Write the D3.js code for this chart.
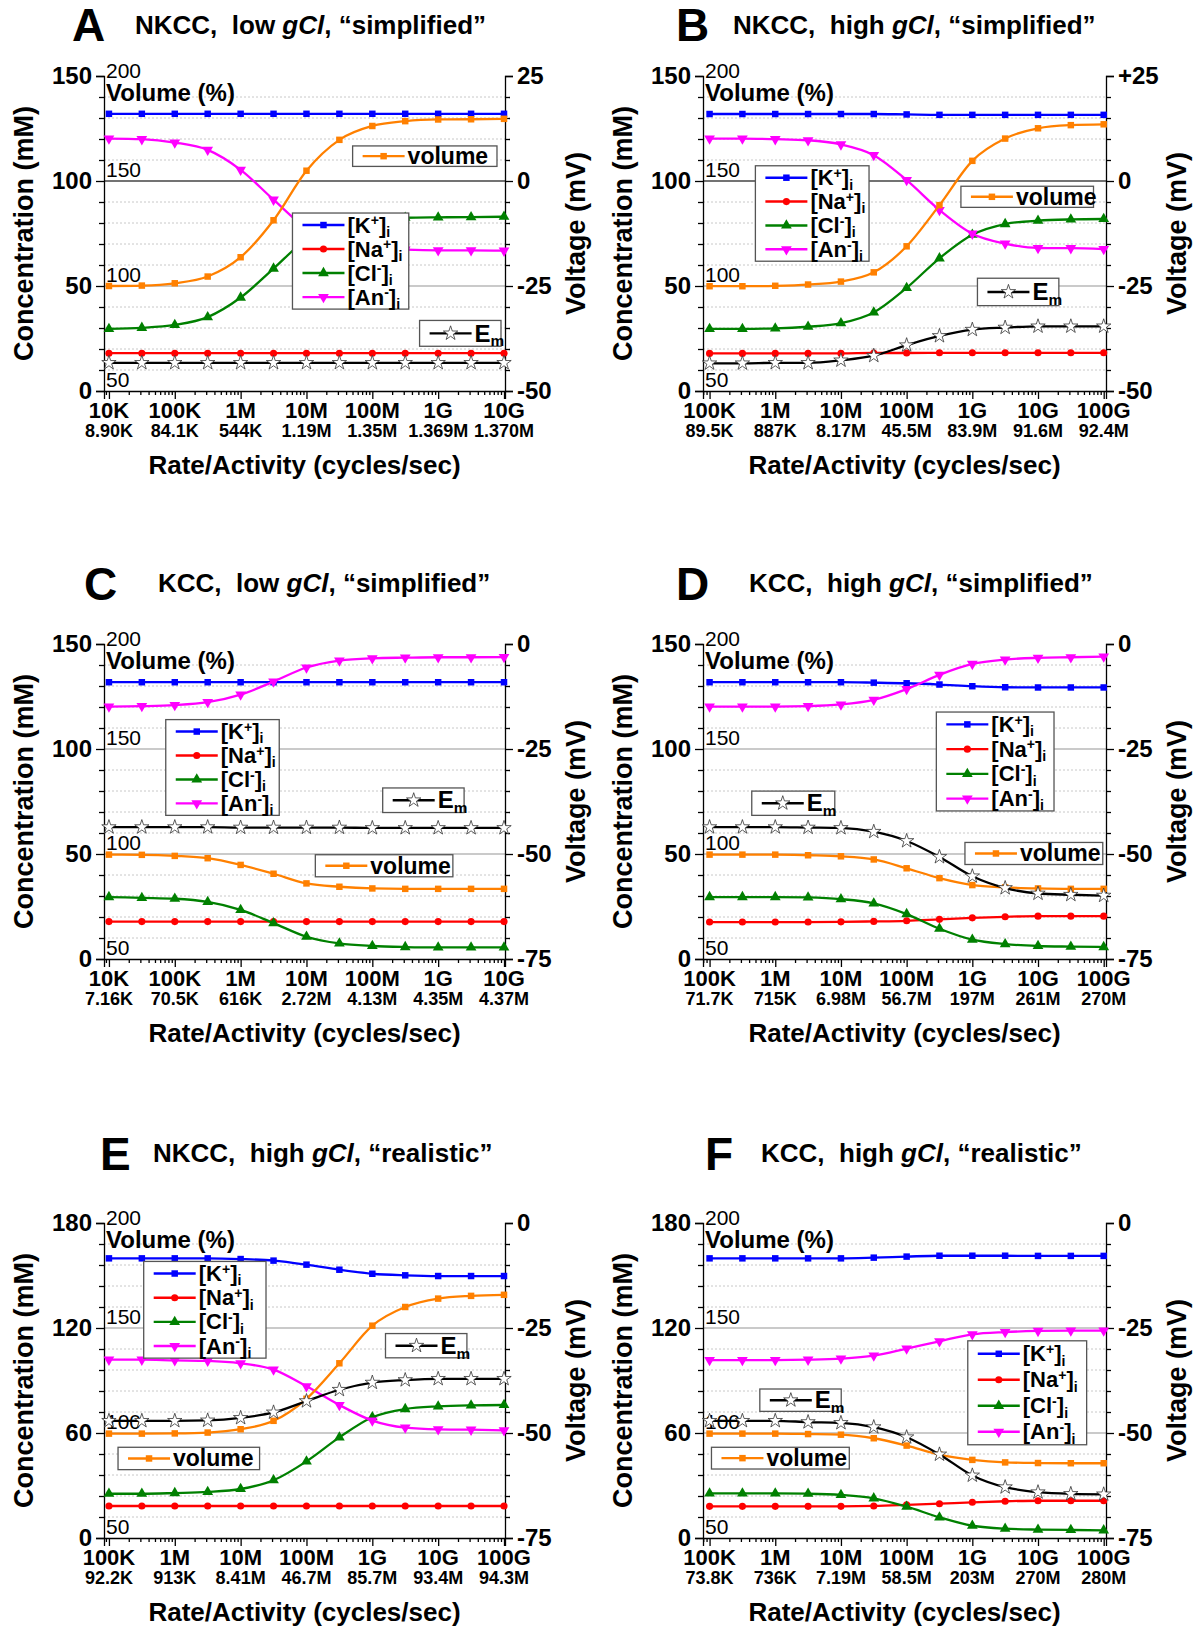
<!DOCTYPE html>
<html><head><meta charset="utf-8">
<script src="https://cdn.jsdelivr.net/npm/d3@7/dist/d3.min.js"></script>
<style>
body{margin:0;background:#fff;}
svg{display:block;font-family:"Liberation Sans",Arial,sans-serif;}
</style></head><body>
<svg id="fig" width="1203" height="1627"></svg>
<script>
// x positions (cycles/sec), half-decade steps
const ratesLow  = [1e4, 3.16e4, 1e5, 3.16e5, 1e6, 3.16e6, 1e7, 3.16e7, 1e8, 3.16e8, 1e9, 3.16e9, 1e10];
const ratesHigh = [1e5, 3.16e5, 1e6, 3.16e6, 1e7, 3.16e7, 1e8, 3.16e8, 1e9, 3.16e9, 1e10, 3.16e10, 1e11];
const decadesLow  = [1e4, 1e5, 1e6, 1e7, 1e8, 1e9, 1e10];
const decadesHigh = [1e5, 1e6, 1e7, 1e8, 1e9, 1e10, 1e11];
const decadeLabelsLow  = ['10K', '100K', '1M', '10M', '100M', '1G', '10G'];
const decadeLabelsHigh = ['100K', '1M', '10M', '100M', '1G', '10G', '100G'];

const rateLabelsA = ['8.90K', '84.1K', '544K', '1.19M', '1.35M', '1.369M', '1.370M'];
const rateLabelsB = ['89.5K', '887K', '8.17M', '45.5M', '83.9M', '91.6M', '92.4M'];
const rateLabelsC = ['7.16K', '70.5K', '616K', '2.72M', '4.13M', '4.35M', '4.37M'];
const rateLabelsD = ['71.7K', '715K', '6.98M', '56.7M', '197M', '261M', '270M'];
const rateLabelsE = ['92.2K', '913K', '8.41M', '46.7M', '85.7M', '93.4M', '94.3M'];
const rateLabelsF = ['73.8K', '736K', '7.19M', '58.5M', '203M', '270M', '280M'];

// left axis (mM), right axis (mV), volume (%)
const concTicks150 = [0, 50, 100, 150];
const concTicks180 = [0, 60, 120, 180];
const volTicks = [50, 100, 150, 200];
const mvTicksHigh = [-50, -25, 0, 25];
const mvTicksLow  = [-75, -50, -25, 0];
const mvLabelsA = ['-50', '-25', '0', '25'];
const mvLabelsB = ['-50', '-25', '0', '+25'];
const mvLabelsLow = ['-75', '-50', '-25', '0'];

// Panel A: NKCC, low gCl, simplified
const kA  = [132, 132, 132, 132, 132, 132, 132, 132, 132, 132, 132, 132, 132];
const naA = [18, 18, 18, 18, 18, 18, 18, 18, 18, 18, 18, 18, 18];
const clA = [29.6, 30.1, 31.5, 35.2, 44.5, 58.3, 72.2, 79.0, 81.7, 82.5, 82.7, 82.8, 83.0];
const anA = [120.2, 119.9, 118.3, 114.8, 105.3, 91.1, 77.5, 70.8, 68.0, 67.3, 67.0, 67.0, 66.8];
const volA = [100.0, 100.2, 101.3, 104.5, 113.7, 131.3, 154.9, 169.6, 176.2, 178.5, 179.3, 179.4, 179.6];
const emA = [-43.3, -43.3, -43.3, -43.3, -43.3, -43.3, -43.3, -43.3, -43.3, -43.3, -43.3, -43.3, -43.3];

// Panel B: NKCC, high gCl, simplified
const kB  = [131.9, 131.9, 131.9, 131.9, 131.9, 131.9, 131.7, 131.5, 131.5, 131.5, 131.5, 131.5, 131.5];
const naB = [17.9, 17.9, 17.9, 17.9, 17.9, 18.1, 18.1, 18.2, 18.2, 18.2, 18.2, 18.2, 18.2];
const clB = [29.6, 29.6, 29.8, 30.6, 32.3, 37.4, 49.1, 63.2, 74.4, 79.5, 81.1, 81.7, 81.9];
const anB = [120.2, 120.2, 119.9, 119.4, 117.4, 112.3, 100.4, 86.2, 74.9, 70.2, 68.1, 68.0, 67.6];
const volB = [99.9, 99.9, 100.1, 100.7, 102.1, 106.5, 118.9, 138.5, 159.6, 170.2, 175.1, 176.6, 177.0];
const emB = [-43.4, -43.4, -43.3, -43.3, -42.7, -41.6, -39.1, -36.9, -35.4, -34.9, -34.6, -34.6, -34.6];

// Panel C: KCC, low gCl, simplified
const kC  = [131.8, 131.8, 131.8, 131.8, 131.8, 131.8, 131.8, 131.8, 131.8, 131.8, 131.8, 131.8, 131.8];
const naC = [17.8, 17.8, 17.8, 17.8, 17.8, 17.8, 17.8, 17.8, 17.8, 17.8, 17.8, 17.8, 17.8];
const clC = [29.5, 29.1, 28.7, 27.2, 23.4, 17.1, 10.6, 7.4, 6.2, 5.7, 5.5, 5.5, 5.5];
const anC = [120.2, 120.4, 120.9, 122.3, 125.9, 132.1, 138.8, 142.1, 143.2, 143.5, 143.7, 143.7, 143.8];
const volC = [99.7, 99.6, 99.1, 98.0, 94.8, 90.6, 86.0, 84.4, 83.6, 83.4, 83.4, 83.4, 83.4];
const emC = [-43.6, -43.6, -43.6, -43.6, -43.7, -43.7, -43.7, -43.7, -43.8, -43.8, -43.8, -43.8, -43.8];

// Panel D: KCC, high gCl, simplified
const kD  = [131.8, 131.8, 131.8, 131.8, 131.8, 131.6, 131.3, 130.7, 129.9, 129.4, 129.3, 129.3, 129.3];
const naD = [17.6, 17.6, 17.6, 17.6, 17.7, 17.9, 18.2, 18.9, 19.6, 20.1, 20.4, 20.4, 20.4];
const clD = [29.5, 29.5, 29.5, 29.3, 28.5, 26.5, 21.4, 14.4, 9.2, 7.1, 6.2, 5.9, 5.7];
const anD = [120.2, 120.2, 120.2, 120.4, 121.2, 123.4, 128.5, 135.3, 140.5, 142.6, 143.4, 143.7, 144.0];
const volD = [99.7, 99.7, 99.7, 99.4, 98.9, 97.4, 93.2, 88.5, 85.2, 84.1, 83.6, 83.4, 83.4];
const emD = [-43.6, -43.6, -43.6, -43.7, -43.8, -44.7, -46.9, -50.7, -55.3, -58.1, -59.4, -59.7, -59.9];

// Panel E: NKCC, high gCl, realistic
const kE  = [159.8, 159.8, 159.8, 159.8, 159.4, 158.5, 156.2, 153.3, 151.0, 150.1, 149.7, 149.7, 149.7];
const naE = [18.3, 18.3, 18.3, 18.3, 18.3, 18.3, 18.3, 18.3, 18.3, 18.3, 18.3, 18.3, 18.3];
const clE = [25.3, 25.3, 25.7, 26.3, 28.0, 33.0, 43.8, 57.5, 69.0, 73.7, 75.2, 75.8, 76.0];
const anE = [101.9, 101.9, 101.5, 101.2, 99.8, 96.2, 86.7, 76.0, 67.1, 63.1, 62.1, 61.9, 61.5];
const volE = [99.7, 99.7, 99.8, 100.2, 101.8, 105.8, 116.3, 133.2, 151.1, 160.0, 164.0, 165.3, 165.8];
const emE = [-47.1, -47.1, -47.1, -47.0, -46.4, -45.1, -42.4, -39.7, -38.0, -37.4, -37.1, -37.1, -37.1];

// Panel F: KCC, high gCl, realistic
const kF  = [159.8, 159.8, 159.8, 159.8, 159.8, 160.2, 160.8, 161.3, 161.3, 161.3, 161.2, 161.2, 161.2];
const naF = [18.1, 18.1, 18.1, 18.1, 18.1, 18.3, 18.9, 19.6, 20.4, 21.0, 21.3, 21.3, 21.3];
const clF = [25.5, 25.5, 25.5, 25.3, 24.6, 22.7, 17.9, 11.8, 7.0, 5.3, 4.8, 4.6, 4.4];
const anF = [101.7, 101.7, 101.7, 101.9, 102.5, 104.2, 108.2, 112.4, 116.4, 117.7, 118.3, 118.5, 118.5];
const volF = [99.7, 99.7, 99.7, 99.5, 99.2, 97.5, 94.0, 89.7, 87.2, 86.0, 85.7, 85.6, 85.6];
const emF = [-47.1, -47.1, -47.1, -47.4, -47.6, -48.6, -51.0, -55.1, -60.1, -62.9, -64.1, -64.5, -64.6];

const svg = d3.select('#fig');
const FONT = 'Liberation Sans, Arial, sans-serif';

const series = [
    {key: 'k',  color: '#0000ff', sym: 'square', label: [['[K'], ['+', 'sup'], [']'], ['i', 'sub']]},
    {key: 'na', color: '#ff0000', sym: 'circle', label: [['[Na'], ['+', 'sup'], [']'], ['i', 'sub']]},
    {key: 'cl', color: '#008000', sym: 'up',     label: [['[Cl'], ['-', 'sup'], [']'], ['i', 'sub']]},
    {key: 'an', color: '#ff00ff', sym: 'down',   label: [['[An'], ['-', 'sup'], [']'], ['i', 'sub']]},
];
const volSeries = {key: 'vol', color: '#ff8000', sym: 'square', label: [['volume']]};
const emSeries  = {key: 'em',  color: '#000000', sym: 'star',   label: [['E'], ['m', 'sub']]};

const symPath = {
    square: d3.symbol(d3.symbolSquare, 42)(),
    circle: d3.symbol(d3.symbolCircle, 40)(),
    up:     d3.symbol(d3.symbolTriangle, 50)(),
    down:   d3.symbol(d3.symbolTriangle, 50)(),
    star:   d3.symbol(d3.symbolStar, 64)()
};

function marker(g, s, x, y) {
    let p = g.append('path').attr('d', symPath[s.sym])
        .attr('transform', `translate(${x},${y})` + (s.sym === 'down' ? ' rotate(180)' : ''));
    if (s.sym === 'star') p.attr('fill', '#fff').attr('stroke', '#333').attr('stroke-width', 0.8);
    else p.attr('fill', s.color);
}

// text with super/subscript parts, shifts in px
function rich(t, parts, fs) {
    let off = 0;
    parts.forEach(([str, kind]) => {
        let ts = t.append('tspan').text(str);
        let target = 0;
        if (kind === 'sup') { ts.attr('font-size', fs * 0.64); target = -0.33 * fs; }
        if (kind === 'sub') { ts.attr('font-size', fs * 0.64); target = 0.2 * fs; }
        if (kind === 'it') ts.attr('font-style', 'italic');
        if (target !== off) ts.attr('dy', target - off);
        off = target;
    });
}

const cols = [
    {left: 104, right: 505, padL: 0.075, padR: 0.015},
    {left: 703, right: 1106, padL: 0.1, padR: 0.035}
];
const rows = [
    {top: 76, bottom: 391, titleY: 34, letterY: 41},
    {top: 644, bottom: 959, titleY: 592, letterY: 600},
    {top: 1223, bottom: 1538, titleY: 1162, letterY: 1170}
];

const NB = '\u00a0';
const panels = [
    {letter: 'A', lx: 72, tx: 135, col: 0, row: 0, head: 'NKCC,' + NB + ' low ', tail: ', \u201csimplified\u201d',
     rates: ratesLow, decades: decadesLow, decLabels: decadeLabelsLow, rateLabels: rateLabelsA,
     yMax: 150, concTicks: concTicks150, mv: [-50, 25], mvTicks: mvTicksHigh, mvLabels: mvLabelsA, zeroLine: true,
     data: {k: kA, na: naA, cl: clA, an: anA, vol: volA, em: emA},
     leg: {ion: [0.47, 0.76, 0.435, 0.74], vol: [0.62, 0.98, 0.222, 0.287], em: [0.787, 0.99, 0.776, 0.858]}},
    {letter: 'B', lx: 676, tx: 733, col: 1, row: 0, head: 'NKCC,' + NB + ' high ', tail: ', \u201csimplified\u201d',
     rates: ratesHigh, decades: decadesHigh, decLabels: decadeLabelsHigh, rateLabels: rateLabelsB,
     yMax: 150, concTicks: concTicks150, mv: [-50, 25], mvTicks: mvTicksHigh, mvLabels: mvLabelsB, zeroLine: true,
     data: {k: kB, na: naB, cl: clB, an: anB, vol: volB, em: emB},
     leg: {ion: [0.13, 0.412, 0.285, 0.588], vol: [0.64, 0.969, 0.35, 0.417], em: [0.681, 0.883, 0.642, 0.729]}},
    {letter: 'C', lx: 84, tx: 158, col: 0, row: 1, head: 'KCC,' + NB + ' low ', tail: ', \u201csimplified\u201d',
     rates: ratesLow, decades: decadesLow, decLabels: decadeLabelsLow, rateLabels: rateLabelsC,
     yMax: 150, concTicks: concTicks150, mv: [-75, 0], mvTicks: mvTicksLow, mvLabels: mvLabelsLow,
     data: {k: kC, na: naC, cl: clC, an: anC, vol: volC, em: emC},
     leg: {ion: [0.154, 0.437, 0.24, 0.544], vol: [0.527, 0.87, 0.669, 0.739], em: [0.695, 0.898, 0.457, 0.535]}},
    {letter: 'D', lx: 676, tx: 749, col: 1, row: 1, head: 'KCC,' + NB + ' high ', tail: ', \u201csimplified\u201d',
     rates: ratesHigh, decades: decadesHigh, decLabels: decadeLabelsHigh, rateLabels: rateLabelsD,
     yMax: 150, concTicks: concTicks150, mv: [-75, 0], mvTicks: mvTicksLow, mvLabels: mvLabelsLow,
     data: {k: kD, na: naD, cl: clD, an: anD, vol: volD, em: emD},
     leg: {ion: [0.579, 0.871, 0.216, 0.53], vol: [0.65, 0.992, 0.63, 0.70], em: [0.121, 0.327, 0.467, 0.544]}},
    {letter: 'E', lx: 100, tx: 153, col: 0, row: 2, head: 'NKCC,' + NB + ' high ', tail: ', \u201crealistic\u201d',
     rates: ratesHigh, decades: decadesHigh, decLabels: decadeLabelsHigh, rateLabels: rateLabelsE,
     yMax: 180, concTicks: concTicks180, mv: [-75, 0], mvTicks: mvTicksLow, mvLabels: mvLabelsLow,
     data: {k: kE, na: naE, cl: clE, an: anE, vol: volE, em: emE},
     leg: {ion: [0.099, 0.404, 0.122, 0.429], vol: [0.035, 0.388, 0.712, 0.783], em: [0.702, 0.905, 0.351, 0.428]}},
    {letter: 'F', lx: 705, tx: 761, col: 1, row: 2, head: 'KCC,' + NB + ' high ', tail: ', \u201crealistic\u201d',
     rates: ratesHigh, decades: decadesHigh, decLabels: decadeLabelsHigh, rateLabels: rateLabelsF,
     yMax: 180, concTicks: concTicks180, mv: [-75, 0], mvTicks: mvTicksLow, mvLabels: mvLabelsLow,
     data: {k: kF, na: naF, cl: clF, an: anF, vol: volF, em: emF},
     leg: {ion: [0.657, 0.952, 0.374, 0.704], vol: [0.021, 0.363, 0.712, 0.781], em: [0.141, 0.343, 0.527, 0.598]}}
];

function legend(g, p, box, items, rowFs) {
    let L = p.left + box[0] * (p.right - p.left), R = p.left + box[1] * (p.right - p.left);
    let T = p.top + box[2] * (p.bottom - p.top), B = p.top + box[3] * (p.bottom - p.top);
    let lg = g.append('g');
    lg.append('rect').attr('x', L).attr('y', T).attr('width', R - L).attr('height', B - T)
        .attr('fill', '#fff').attr('stroke', '#555').attr('stroke-width', 1.3);
    let rh = (B - T) / items.length;
    items.forEach((s, i) => {
        let cy = T + rh * (i + 0.5);
        lg.append('line').attr('x1', L + 10).attr('x2', L + 52).attr('y1', cy).attr('y2', cy)
            .attr('stroke', s.color).attr('stroke-width', 2.4);
        marker(lg, s, L + 31, cy);
        let t = lg.append('text').attr('x', L + 55).attr('y', cy + rowFs * 0.34)
            .attr('font-size', rowFs).attr('font-weight', 'bold');
        rich(t, s.label, rowFs);
    });
}

panels.forEach(pc => {
    let c = cols[pc.col], r = rows[pc.row];
    let p = {left: c.left, right: c.right, top: r.top, bottom: r.bottom};
    let g = svg.append('g');

    // title
    g.append('text').attr('x', pc.lx).attr('y', r.letterY).attr('font-size', 46).attr('font-weight', 'bold').text(pc.letter);
    let tt = g.append('text').attr('x', pc.tx).attr('y', r.titleY).attr('font-size', 26).attr('font-weight', 'bold');
    rich(tt, [[pc.head], ['gCl', 'it'], [pc.tail]], 26);

    let e0 = Math.log10(pc.rates[0]), e1 = Math.log10(pc.rates[pc.rates.length - 1]);
    let x = d3.scaleLog().domain([Math.pow(10, e0 - c.padL), Math.pow(10, e1 + c.padR)]).range([p.left, p.right]);
    let y = d3.scaleLinear().domain([0, pc.yMax]).range([p.bottom, p.top]);
    let v = d3.scaleLinear().domain(pc.mv).range([p.bottom, p.top]);
    let vol = d3.scaleLinear().domain([50, 200]).range([p.bottom, p.top]);

    // grid
    let step = pc.yMax / 15;
    let minor = d3.range(step, pc.yMax - 0.01, step).filter(d => !pc.concTicks.some(t => Math.abs(t - d) < 0.01));
    g.append('g').selectAll('line').data(minor).join('line')
        .attr('x1', p.left).attr('x2', p.right).attr('y1', d => y(d)).attr('y2', d => y(d))
        .attr('stroke', '#c8c8c8').attr('stroke-width', 1).attr('stroke-dasharray', '2,2');
    let majors = pc.concTicks.filter(d => d > 0 && d < pc.yMax);
    g.append('g').selectAll('line').data(majors).join('line')
        .attr('x1', p.left).attr('x2', p.right).attr('y1', d => y(d)).attr('y2', d => y(d))
        .attr('stroke', d => (pc.zeroLine && Math.abs(v(0) - y(d)) < 1) ? '#444' : '#b8b8b8').attr('stroke-width', 1.3);

    // left axis
    let la = g.append('g').attr('transform', `translate(${p.left},0)`)
        .call(d3.axisLeft(y).tickValues(pc.concTicks).tickSize(8).tickPadding(4));
    g.append('g').attr('transform', `translate(${p.left},0)`)
        .call(d3.axisLeft(y).tickValues(minor).tickSize(5).tickFormat(''))
        .call(a => a.select('.domain').remove());
    la.selectAll('text').attr('font-size', 24).attr('font-weight', 'bold').attr('font-family', FONT);

    // right axis
    let ra = g.append('g').attr('transform', `translate(${p.right},0)`)
        .call(d3.axisRight(v).tickValues(pc.mvTicks).tickSize(8).tickPadding(4).tickFormat((d, i) => pc.mvLabels[i]));
    g.append('g').attr('transform', `translate(${p.right},0)`)
        .call(d3.axisRight(y).tickValues(minor).tickSize(5).tickFormat(''))
        .call(a => a.select('.domain').remove());
    ra.selectAll('text').attr('font-size', 24).attr('font-weight', 'bold').attr('font-family', FONT);

    // bottom axis
    let minorX = [];
    for (let e = Math.floor(e0) - 1; e <= Math.ceil(e1); e++) {
        for (let m = 2; m <= 9; m++) {
            let val = m * Math.pow(10, e);
            if (val > x.domain()[0] && val < x.domain()[1]) minorX.push(val);
        }
    }
    g.append('g').attr('transform', `translate(0,${p.bottom})`)
        .call(d3.axisBottom(x).tickValues(pc.decades).tickSize(8).tickFormat(''));
    g.append('g').attr('transform', `translate(0,${p.bottom})`)
        .call(d3.axisBottom(x).tickValues(minorX).tickSize(4).tickFormat(''))
        .call(a => a.select('.domain').remove());
    g.selectAll('.domain, .tick line').attr('stroke', '#000').attr('stroke-width', 1.3);

    g.append('g').selectAll('text').data(pc.decLabels).join('text')
        .attr('x', (d, i) => x(pc.decades[i])).attr('y', p.bottom + 27)
        .attr('text-anchor', 'middle').attr('font-size', 22).attr('font-weight', 'bold').text(d => d);
    g.append('g').selectAll('text').data(pc.rateLabels).join('text')
        .attr('x', (d, i) => x(pc.decades[i])).attr('y', p.bottom + 46)
        .attr('text-anchor', 'middle').attr('font-size', 18).attr('font-weight', 'bold').text(d => d);

    // axis titles
    let cy = (p.top + p.bottom) / 2;
    g.append('text').attr('transform', `translate(${p.left - 81},${cy}) rotate(-90)`).attr('dy', '0.36em')
        .attr('text-anchor', 'middle').attr('font-size', 27).attr('font-weight', 'bold').text('Concentration (mM)');
    g.append('text').attr('transform', `translate(${p.right + 70},${cy}) rotate(-90)`).attr('dy', '0.36em')
        .attr('text-anchor', 'middle').attr('font-size', 27).attr('font-weight', 'bold').text('Voltage (mV)');
    g.append('text').attr('x', (p.left + p.right) / 2).attr('y', p.bottom + 83)
        .attr('text-anchor', 'middle').attr('font-size', 26).attr('font-weight', 'bold').text('Rate/Activity (cycles/sec)');

    // volume axis labels inside left axis
    g.append('g').selectAll('text').data(volTicks).join('text')
        .attr('x', p.left + 2).attr('y', d => d === 200 ? p.top + 2 : vol(d) - 4)
        .attr('font-size', 21).text(d => d);
    g.append('text').attr('x', p.left + 2).attr('y', p.top + 25)
        .attr('font-size', 24).attr('font-weight', 'bold').text('Volume (%)');

    // data lines
    let draw = (s, vals, scale) => {
        let line = d3.line().x((d, i) => x(pc.rates[i])).y(d => scale(d)).curve(d3.curveMonotoneX);
        g.append('path').datum(vals).attr('d', line).attr('fill', 'none')
            .attr('stroke', s.color).attr('stroke-width', 2.3);
        let mg = g.append('g');
        vals.forEach((d, i) => marker(mg, s, x(pc.rates[i]), scale(d)));
    };
    series.forEach(s => draw(s, pc.data[s.key], y));
    draw(volSeries, pc.data.vol, vol);
    draw(emSeries, pc.data.em, v);

    // legends
    legend(g, p, pc.leg.ion, series, 22);
    legend(g, p, pc.leg.vol, [volSeries], 23);
    legend(g, p, pc.leg.em, [emSeries], 24);
});
</script>
</body></html>
